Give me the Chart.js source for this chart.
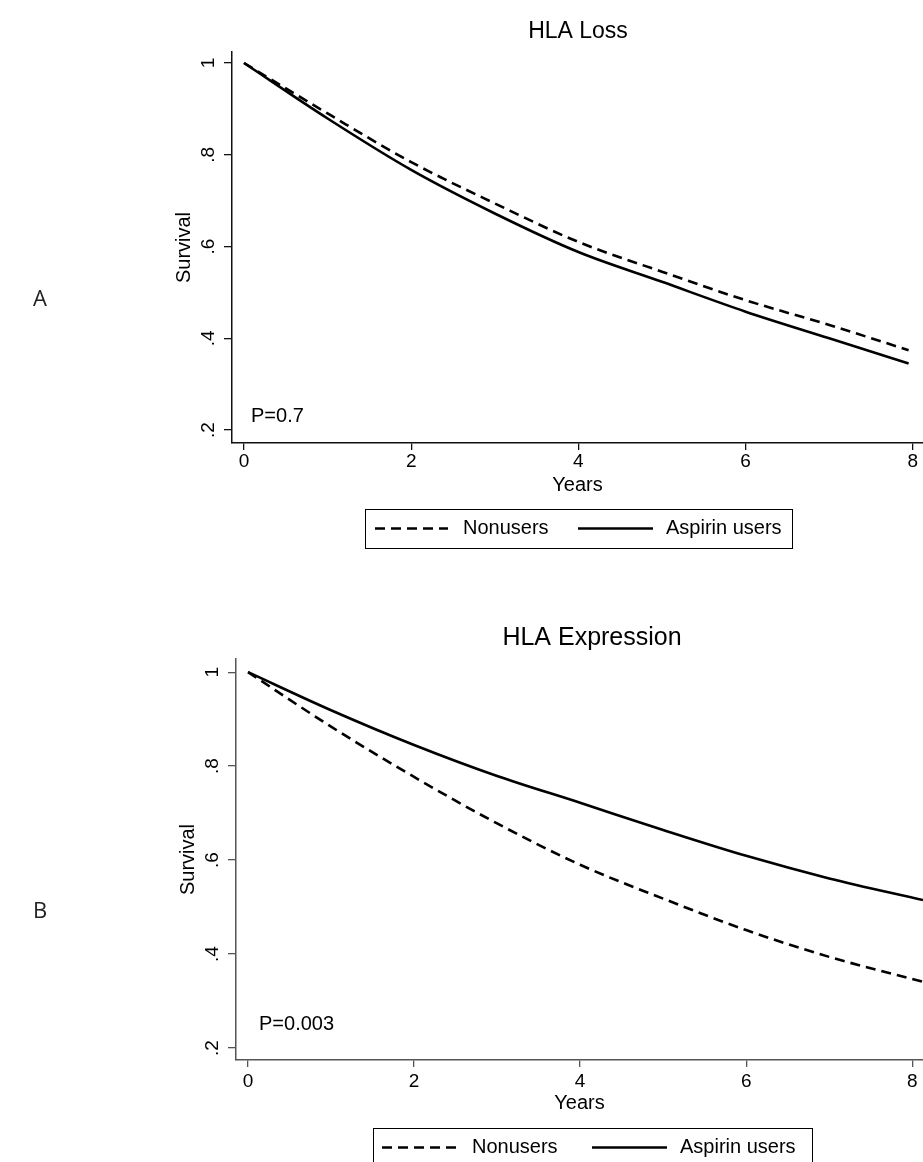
<!DOCTYPE html>
<html>
<head>
<meta charset="utf-8">
<title>HLA survival curves</title>
<script src="https://cdn.jsdelivr.net/npm/chart.js@4.4.1/dist/chart.umd.min.js"></script>
<style>
  body { margin: 0; background: #fff; }
  #wrap { position: relative; width: 923px; height: 1162px; overflow: hidden; }
  canvas { position: absolute; left: 0; }
</style>
</head>
<body>
<div id="wrap">
  <canvas id="loss-chart" width="923" height="580" style="top:0"></canvas>
  <canvas id="expr-chart" width="923" height="582" style="top:580px"></canvas>
</div>
<script>
// values
const seriesLabels = ['Nonusers', 'Aspirin users'];

const lossYears = [0, 1, 2, 3, 4, 5, 6, 7, 7.95];
const lossNonusers = [1, 0.890, 0.784, 0.694, 0.610, 0.545, 0.483, 0.429, 0.374];
const lossAspirin = [1, 0.879, 0.767, 0.672, 0.588, 0.523, 0.458, 0.400, 0.345];

const exprYears = [0, 1, 2, 3, 4, 5, 6, 7, 8.13];
const exprNonusers = [1, 0.884, 0.777, 0.678, 0.590, 0.518, 0.451, 0.394, 0.341];
const exprAspirin = [1, 0.919, 0.845, 0.779, 0.722, 0.664, 0.609, 0.561, 0.515];

const xTicks = [0, 2, 4, 6, 8];
const yTicks = [0.2, 0.4, 0.6, 0.8, 1];
const yTickLabels = ['.2', '.4', '.6', '.8', '1'];

const FONT = '"Liberation Sans", Arial, Helvetica, sans-serif';
Chart.defaults.font.family = FONT;
Chart.defaults.color = '#000';

function toPoints(xs, ys) {
    return xs.map((x, i) => ({ x: x, y: ys[i] }));
}

// Stata-like decorations: title, rotated y labels, boxed legend, p-value, panel letter
const decor = {
    id: 'decor',
    afterDraw(chart, args, o) {
        const ctx = chart.ctx;
        const area = chart.chartArea;
        const yScale = chart.scales.y;
        ctx.save();
        ctx.fillStyle = '#000';

        ctx.font = o.titleSize + 'px ' + FONT;
        ctx.textAlign = 'center';
        ctx.textBaseline = 'middle';
        ctx.fillText(o.title, o.titleX, o.titleY);

        // y tick labels, rotated like Stata
        ctx.font = '19px ' + FONT;
        yTicks.forEach((v, i) => {
            const py = yScale.getPixelForValue(v);
            ctx.save();
            ctx.translate(area.left - 18, py);
            ctx.rotate(-Math.PI / 2);
            ctx.textAlign = 'center';
            ctx.textBaseline = 'alphabetic';
            ctx.fillText(yTickLabels[i], 0, 0);
            ctx.restore();
        });

        // y axis title
        ctx.save();
        ctx.font = '20px ' + FONT;
        ctx.translate(area.left - 42, (area.top + area.bottom) / 2);
        ctx.rotate(-Math.PI / 2);
        ctx.textAlign = 'center';
        ctx.textBaseline = 'alphabetic';
        ctx.fillText('Survival', 0, 0);
        ctx.restore();

        // p value
        ctx.font = '20px ' + FONT;
        ctx.textAlign = 'left';
        ctx.textBaseline = 'middle';
        ctx.fillText(o.pText, o.pX, o.pY);

        // legend box
        const lg = o.legend;
        ctx.strokeStyle = '#000';
        ctx.lineWidth = 1;
        ctx.strokeRect(lg.x + 0.5, lg.y + 0.5, lg.w, lg.h);
        const cy = lg.y + 19.5;
        chart.data.datasets.forEach((ds, i) => {
            const it = lg.items[i];
            ctx.beginPath();
            ctx.setLineDash(ds.borderDash || []);
            ctx.lineWidth = ds.borderWidth;
            ctx.strokeStyle = ds.borderColor;
            ctx.moveTo(lg.x + it[0], cy);
            ctx.lineTo(lg.x + it[1], cy);
            ctx.stroke();
            ctx.setLineDash([]);
            ctx.font = '20px ' + FONT;
            ctx.fillStyle = '#000';
            ctx.textAlign = 'left';
            ctx.fillText(ds.label, lg.x + it[2], cy);
        });

        // panel letter
        ctx.font = '22px "Open Sans", "Noto Sans", sans-serif';
        ctx.fillStyle = '#222';
        ctx.textAlign = 'center';
        ctx.fillText(o.letter, 40, o.letterY);
        ctx.restore();
    }
};

function makeChart(id, cfg) {
    const ctx = document.getElementById(id).getContext('2d');
    return new Chart(ctx, {
        type: 'scatter',
        data: {
            datasets: [{
                label: seriesLabels[0],
                data: toPoints(cfg.years, cfg.nonusers),
                showLine: true,
                borderColor: '#000',
                borderWidth: 2.6,
                borderDash: [10, 6],
                pointRadius: 0,
                cubicInterpolationMode: 'monotone'
            }, {
                label: seriesLabels[1],
                data: toPoints(cfg.years, cfg.aspirin),
                showLine: true,
                borderColor: '#000',
                borderWidth: 2.6,
                pointRadius: 0,
                cubicInterpolationMode: 'monotone'
            }]
        },
        options: {
            responsive: false,
            animation: false,
            devicePixelRatio: 1,
            layout: { padding: cfg.padding },
            plugins: {
                legend: { display: false },
                tooltip: { enabled: false },
                decor: cfg.decor
            },
            scales: {
                x: {
                    type: 'linear',
                    min: cfg.xMin,
                    max: cfg.xMax,
                    afterBuildTicks: s => { s.ticks = xTicks.map(v => ({ value: v })); },
                    afterFit: s => { s.height = cfg.xHeight; },
                    border: { display: true, color: cfg.axisColor, width: 1.5 },
                    grid: { drawOnChartArea: false, drawTicks: true, tickLength: 7, color: cfg.axisColor, lineWidth: 1.3 },
                    ticks: { font: { size: 19 }, color: '#000', padding: cfg.tickPad, maxRotation: 0 },
                    title: { display: true, text: 'Years', font: { size: 20 }, color: '#000', padding: 0 }
                },
                y: {
                    type: 'linear',
                    min: cfg.yMin,
                    max: cfg.yMax,
                    afterBuildTicks: s => { s.ticks = yTicks.map(v => ({ value: v })); },
                    afterFit: s => { s.width = cfg.yWidth; },
                    border: { display: true, color: cfg.axisColor, width: 1.5 },
                    grid: { drawOnChartArea: false, drawTicks: true, tickLength: 8, color: cfg.axisColor, lineWidth: 1.3 },
                    ticks: { display: false }
                }
            }
        },
        plugins: [decor]
    });
}

makeChart('loss-chart', {
    years: lossYears, nonusers: lossNonusers, aspirin: lossAspirin,
    xMin: -0.1435, xMax: 8.122, yMin: 0.1717, yMax: 1.024,
    padding: { top: 52, left: 0, right: 0, bottom: 83 },
    xHeight: 54, yWidth: 232, tickPad: 0, axisColor: '#111',
    decor: {
        title: 'HLA Loss', titleSize: 23, titleX: 578, titleY: 32,
        pText: 'P=0.7', pX: 251, pY: 416,
        letter: 'A', letterY: 300,
        legend: { x: 365, y: 509, w: 427, h: 39, items: [[10, 83, 98], [213, 288, 301]] }
    }
});

makeChart('expr-chart', {
    years: exprYears, nonusers: exprNonusers, aspirin: exprAspirin,
    xMin: -0.145, xMax: 8.13, yMin: 0.1745, yMax: 1.028,
    padding: { top: 79, left: 0, right: 0, bottom: 47 },
    xHeight: 55, yWidth: 236, tickPad: 3, axisColor: '#555',
    decor: {
        title: 'HLA Expression', titleSize: 25, titleX: 592, titleY: 58,
        pText: 'P=0.003', pX: 259, pY: 444,
        letter: 'B', letterY: 332,
        legend: { x: 373, y: 548, w: 439, h: 40, items: [[9, 85, 99], [219, 294, 307]] }
    }
});
</script>
</body>
</html>
